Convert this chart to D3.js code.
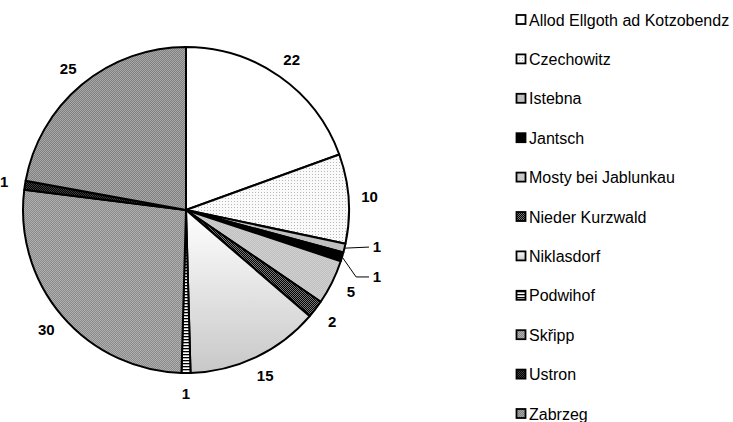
<!DOCTYPE html>
<html><head><meta charset="utf-8">
<script src="https://cdn.jsdelivr.net/npm/d3@7"></script>
<style>html,body{margin:0;padding:0;background:#fff;}svg{display:block;}</style>
</head><body>
<svg id="chart" width="733" height="422"></svg>
<script>
const categories = ["Allod Ellgoth ad Kotzobendz","Czechowitz","Istebna","Jantsch","Mosty bei Jablunkau","Nieder Kurzwald","Niklasdorf","Podwihof","Skřipp","Ustron","Zabrzeg"];
const values = [22,10,1,1,5,2,15,1,30,1,25];
const fillKeys = ["white","dots","lightgray","black","mosty","darkcheck","grad","hlines","graycheck","blackcheck","graycheck2"];

const svg = d3.select("#chart");
const defs = svg.append("defs");
function checker(id, a, b){
  const p = defs.append("pattern").attr("id",id).attr("width",2).attr("height",2).attr("patternUnits","userSpaceOnUse");
  p.append("rect").attr("width",2).attr("height",2).attr("fill",a);
  p.append("rect").attr("width",1).attr("height",1).attr("fill",b);
  p.append("rect").attr("x",1).attr("y",1).attr("width",1).attr("height",1).attr("fill",b);
}
checker("darkcheck","#000","#7a7a7a");
checker("graycheck","#8a8a8a","#b0b0b0");
checker("graycheck2","#808080","#a8a8a8");
checker("blackcheck","#000","#404040");
checker("mosty","#c0c0c0","#d0d0d0");
{
  const p = defs.append("pattern").attr("id","dots").attr("width",3).attr("height",3).attr("patternUnits","userSpaceOnUse");
  p.append("rect").attr("width",3).attr("height",3).attr("fill","#fafafa");
  p.append("rect").attr("width",1).attr("height",1).attr("fill","#b8b8b8");
}
{
  const p = defs.append("pattern").attr("id","hlines").attr("width",3).attr("height",3).attr("patternUnits","userSpaceOnUse");
  p.append("rect").attr("width",3).attr("height",3).attr("fill","#fff");
  p.append("rect").attr("width",3).attr("height",1.3).attr("fill","#000");
}
{
  const g = defs.append("linearGradient").attr("id","grad").attr("x1",0).attr("y1",0).attr("x2",0).attr("y2",1);
  g.append("stop").attr("offset","0%").attr("stop-color","#ffffff");
  g.append("stop").attr("offset","100%").attr("stop-color","#c8c8c8");
}
function fillFor(k){
  if(k==="white") return "#fff";
  if(k==="black") return "#000";
  if(k==="lightgray") return "#c0c0c0";
  return "url(#"+k+")";
}

const cx = 186, cy = 210, r = 163, lr = 184;
const pie = d3.pie().sort(null).value(d=>d);
const arcs = pie(values);
const arc = d3.arc().innerRadius(0).outerRadius(r);
const g = svg.append("g").attr("transform",`translate(${cx},${cy})`);
g.selectAll("path.slice").data(arcs).join("path")
  .attr("class","slice")
  .attr("d",arc)
  .attr("fill",(d,i)=>fillFor(fillKeys[i]))
  .attr("stroke","#000").attr("stroke-width",2).attr("stroke-linejoin","round");

// labels
const labelArc = d3.arc().innerRadius(lr).outerRadius(lr);
const leader = {2:-6, 3:14}; // small adjacent slices get moved labels with leader lines
arcs.forEach((d,i)=>{
  let [x,y] = labelArc.centroid(d);
  if(leader[i]!==undefined){
    const a = (d.startAngle+d.endAngle)/2;
    const ex = r*Math.sin(a), ey = -r*Math.cos(a);
    const ly = y + leader[i];
    const lx = r + 26;
    const pts = i===3 ? [[ex,ey],[ex+14,ly],[lx-6,ly]] : [[ex,ey],[lx-6,ly]];
    g.append("path").attr("d",d3.line()(pts)).attr("fill","none").attr("stroke","#000").attr("stroke-width",1);
    x = lx+2; y = ly;
  }
  g.append("text").attr("x",x).attr("y",y).attr("dy","0.35em")
    .attr("text-anchor","middle")
    .attr("font-family","Liberation Sans, Arial, sans-serif")
    .attr("font-size",15).attr("font-weight","bold")
    .text(values[i]);
});

// legend
const ly = d3.scalePoint().domain(categories).range([20,414]);
const leg = svg.append("g");
categories.forEach((c,i)=>{
  const y = ly(c);
  leg.append("rect").attr("x",516.5).attr("y",y-5).attr("width",9).attr("height",9)
    .attr("fill",fillFor(fillKeys[i])).attr("stroke","#000").attr("stroke-width",1.8);
  leg.append("text").attr("x",529).attr("y",y).attr("dy","0.35em")
    .attr("font-family","Liberation Sans, Arial, sans-serif").attr("font-size",16)
    .text(c);
});
</script>
</body></html>
